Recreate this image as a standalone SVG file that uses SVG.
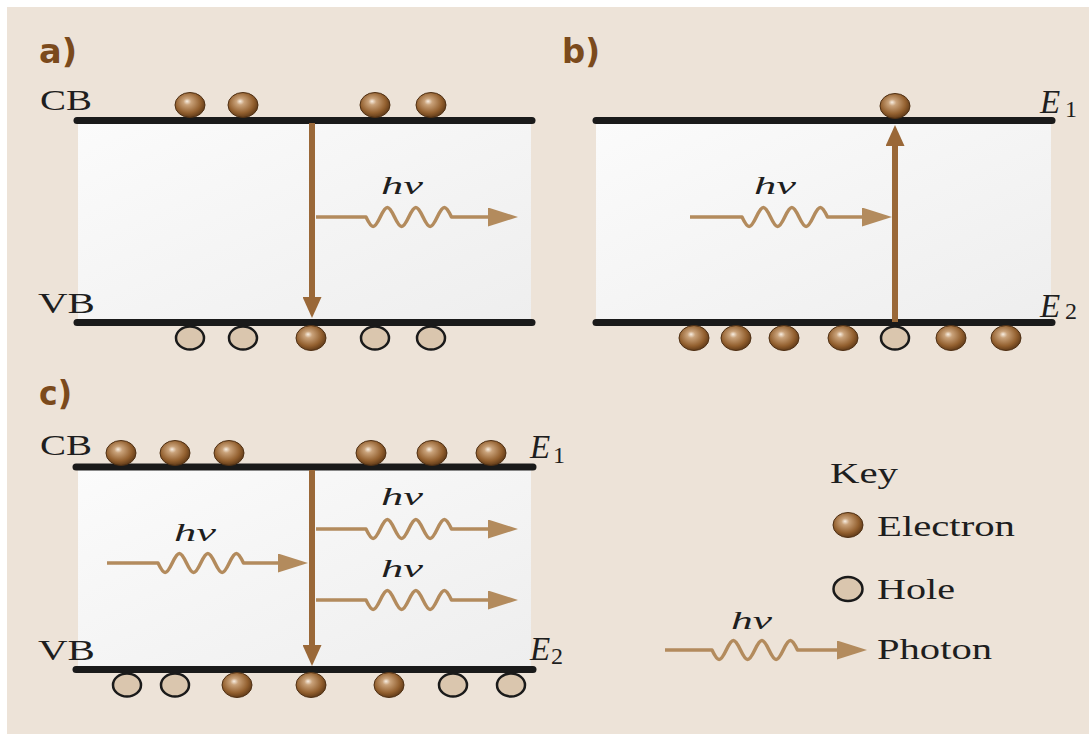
<svg xmlns="http://www.w3.org/2000/svg" xmlns:xlink="http://www.w3.org/1999/xlink" width="1089" height="734" viewBox="0 0 1089 734">
<style>
.bg{fill:#ede3d8}
.panel{fill:url(#pg)}
.band{stroke:#1a1a1a;stroke-width:7;stroke-linecap:round;fill:none}
.lbl{font-family:"DejaVu Sans",Verdana,sans-serif;font-weight:bold;font-size:33px;fill:#7b4a1c}
.t{font-family:"Liberation Serif","Times New Roman",serif;font-size:30px;fill:#1e1e1e}
.hv{font-family:"Liberation Serif","Times New Roman",serif;font-style:italic;font-size:25px;fill:#1e1e1e}
.E{font-family:"Liberation Serif","Times New Roman",serif;font-style:italic;font-size:33px;fill:#1e1e1e}
.sub{font-family:"Liberation Serif","Times New Roman",serif;font-size:24px;fill:#1e1e1e}
.tr{stroke:#9a6838;stroke-width:6;fill:none}
.ph{stroke:#b38b5d;stroke-width:3.5;fill:none;stroke-linejoin:round}
</style>
<defs>
<linearGradient id="pg" x1="0" y1="0" x2="1" y2="1">
<stop offset="0" stop-color="#fbfbfb"/>
<stop offset="1" stop-color="#eeeeee"/>
</linearGradient>
<radialGradient id="eg" cx="0.45" cy="0.42" r="0.6" fx="0.4" fy="0.35">
<stop offset="0" stop-color="#f8eee2"/>
<stop offset="0.22" stop-color="#c9a27a"/>
<stop offset="0.7" stop-color="#93602f"/>
<stop offset="1" stop-color="#5c3716"/>
</radialGradient>
<ellipse id="el" cx="0" cy="0" rx="15" ry="12.5" fill="url(#eg)" stroke="#4f3014" stroke-width="1"/>
<ellipse id="ho" cx="0" cy="0" rx="14" ry="11.5" fill="#dac6ae" stroke="#1a1a1a" stroke-width="2.5"/>
<marker id="mt" markerUnits="userSpaceOnUse" markerWidth="21" markerHeight="19" viewBox="0 0 21 19" refX="0" refY="9.5" orient="auto">
<path d="M0,0 L21,9.5 L0,19 Z" fill="#9a6838"/>
</marker>
<marker id="mp" markerUnits="userSpaceOnUse" markerWidth="30" markerHeight="19" viewBox="0 0 30 19" refX="0" refY="9.5" orient="auto">
<path d="M0,0 L30,9.5 L0,19 Z" fill="#b38b5d"/>
</marker>
</defs>
<rect x="0" y="0" width="1089" height="734" fill="#ffffff"/>
<rect class="bg" x="7" y="7" width="1082" height="727"/>

<g id="panel-a">
<rect class="panel" x="78" y="121" width="453" height="201"/>
<line class="band" x1="77" y1="120.5" x2="532" y2="120.5"/>
<line class="band" x1="77" y1="322.5" x2="532" y2="322.5"/>
<text class="lbl" x="39" y="63" textLength="38" lengthAdjust="spacingAndGlyphs">a)</text>
<text class="t" x="40" y="110" textLength="52" lengthAdjust="spacingAndGlyphs">CB</text>
<text class="t" x="38" y="313" textLength="57" lengthAdjust="spacingAndGlyphs">VB</text>
<text class="hv" x="381" y="194" textLength="42" lengthAdjust="spacingAndGlyphs">hν</text>
<use href="#el" x="190" y="105"/><use href="#el" x="243" y="105"/><use href="#el" x="375" y="105"/><use href="#el" x="431" y="105"/>
<use href="#ho" x="190" y="338"/><use href="#ho" x="243" y="338"/><use href="#el" x="311" y="338"/><use href="#ho" x="375" y="338"/><use href="#ho" x="431" y="338"/>
</g>

<g id="panel-b">
<rect class="panel" x="596" y="121" width="455" height="201"/>
<line class="band" x1="596" y1="120.5" x2="1052" y2="120.5"/>
<line class="band" x1="596" y1="322.5" x2="1052" y2="322.5"/>
<text class="lbl" x="562" y="63" textLength="38" lengthAdjust="spacingAndGlyphs">b)</text>
<text class="E" x="1040" y="113">E</text><text class="sub" x="1065" y="117">1</text>
<text class="E" x="1040" y="317">E</text><text class="sub" x="1065" y="319">2</text>
<text class="hv" x="754" y="194" textLength="42" lengthAdjust="spacingAndGlyphs">hν</text>
<use href="#el" x="895" y="106"/>
<use href="#el" x="694" y="338"/><use href="#el" x="736" y="338"/><use href="#el" x="784" y="338"/><use href="#el" x="843" y="338"/><use href="#ho" x="895" y="338"/><use href="#el" x="951" y="338"/><use href="#el" x="1006" y="338"/>
</g>

<g id="panel-c">
<rect class="panel" x="78" y="467" width="453" height="202"/>
<line class="band" x1="76" y1="467" x2="533" y2="467"/>
<line class="band" x1="76" y1="669.5" x2="533" y2="669.5"/>
<text class="lbl" x="39" y="405" textLength="33" lengthAdjust="spacingAndGlyphs">c)</text>
<text class="t" x="40" y="455" textLength="52" lengthAdjust="spacingAndGlyphs">CB</text>
<text class="t" x="38" y="660" textLength="57" lengthAdjust="spacingAndGlyphs">VB</text>
<text class="E" x="530" y="458">E</text><text class="sub" x="553" y="463">1</text>
<text class="E" x="530" y="660">E</text><text class="sub" x="551" y="664">2</text>
<text class="hv" x="174" y="541" textLength="42" lengthAdjust="spacingAndGlyphs">hν</text>
<text class="hv" x="381" y="505" textLength="42" lengthAdjust="spacingAndGlyphs">hν</text>
<text class="hv" x="381" y="577" textLength="42" lengthAdjust="spacingAndGlyphs">hν</text>
<use href="#el" x="121" y="453"/><use href="#el" x="175" y="453"/><use href="#el" x="229" y="453"/><use href="#el" x="371" y="453"/><use href="#el" x="432" y="453"/><use href="#el" x="491" y="453"/>
<use href="#ho" x="127" y="685"/><use href="#ho" x="175" y="685"/><use href="#el" x="237" y="685"/><use href="#el" x="311" y="685"/><use href="#el" x="389" y="685"/><use href="#ho" x="453" y="685"/><use href="#ho" x="511" y="685"/>
</g>

<g id="key">
<text class="t" x="830" y="483" textLength="68" lengthAdjust="spacingAndGlyphs">Key</text>
<use href="#el" x="848" y="525"/>
<text class="t" x="877" y="536" textLength="138" lengthAdjust="spacingAndGlyphs">Electron</text>
<ellipse cx="848" cy="589" rx="14.5" ry="12" fill="#dac6ae" stroke="#1a1a1a" stroke-width="2.5"/>
<text class="t" x="877" y="599" textLength="78" lengthAdjust="spacingAndGlyphs">Hole</text>
<text class="hv" x="731" y="629" textLength="41" lengthAdjust="spacingAndGlyphs">hν</text>
<text class="t" x="877" y="659" textLength="115" lengthAdjust="spacingAndGlyphs">Photon</text>
</g>

<g id="connectors">
<line class="tr" x1="312" y1="123" x2="312" y2="297" marker-end="url(#mt)"/>
<line class="tr" x1="895" y1="322" x2="895" y2="146" marker-end="url(#mt)"/>
<line class="tr" x1="312" y1="470" x2="312" y2="645" marker-end="url(#mt)"/>
<path class="ph" marker-end="url(#mp)" d="M316,217 H366 c6.05,12.67 8.2,12.67 14.25,0 s8.2,-12.67 14.25,0 s8.2,12.67 14.25,0 s8.2,-12.67 14.25,0 s8.2,12.67 14.25,0 s8.2,-12.67 14.25,0 H488"/>
<path class="ph" marker-end="url(#mp)" d="M690,217 H742 c6.05,12.67 8.2,12.67 14.25,0 s8.2,-12.67 14.25,0 s8.2,12.67 14.25,0 s8.2,-12.67 14.25,0 s8.2,12.67 14.25,0 s8.2,-12.67 14.25,0 H862"/>
<path class="ph" marker-end="url(#mp)" d="M107,563 H158 c6.05,12.67 8.2,12.67 14.25,0 s8.2,-12.67 14.25,0 s8.2,12.67 14.25,0 s8.2,-12.67 14.25,0 s8.2,12.67 14.25,0 s8.2,-12.67 14.25,0 H278"/>
<path class="ph" marker-end="url(#mp)" d="M316,529 H366 c6.05,12.67 8.2,12.67 14.25,0 s8.2,-12.67 14.25,0 s8.2,12.67 14.25,0 s8.2,-12.67 14.25,0 s8.2,12.67 14.25,0 s8.2,-12.67 14.25,0 H488"/>
<path class="ph" marker-end="url(#mp)" d="M316,600 H366 c6.05,12.67 8.2,12.67 14.25,0 s8.2,-12.67 14.25,0 s8.2,12.67 14.25,0 s8.2,-12.67 14.25,0 s8.2,12.67 14.25,0 s8.2,-12.67 14.25,0 H488"/>
<path class="ph" marker-end="url(#mp)" d="M665,650 H712 c6.05,12.67 8.2,12.67 14.25,0 s8.2,-12.67 14.25,0 s8.2,12.67 14.25,0 s8.2,-12.67 14.25,0 s8.2,12.67 14.25,0 s8.2,-12.67 14.25,0 H837"/>
</g>
</svg>
